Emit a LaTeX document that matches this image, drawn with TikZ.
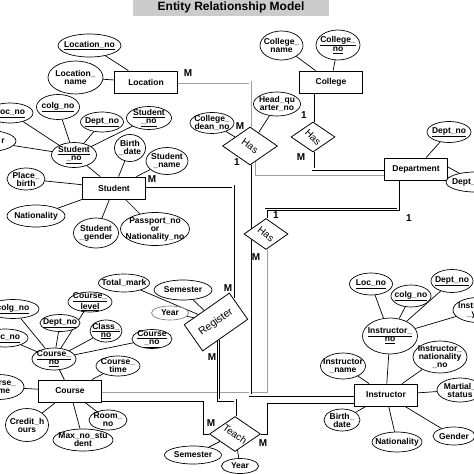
\documentclass[tikz,border=0pt]{standalone}
\usepackage{fontspec}
\setmainfont{Liberation Sans}
\usetikzlibrary{shapes.geometric,calc,backgrounds}
\newcommand{\uln}[1]{\underline{#1}}
\newcommand{\mkattr}[6][]{\node[attr={#4}{#5},#1,label={[lbl]center:{#6}}] (#2) at (#3) {};}
\begin{document}
\begin{tikzpicture}[x=1pt,y=-1pt,
  every node/.style={inner sep=0pt},
  attr/.style 2 args={ellipse, draw, line width=0.7pt, minimum width=#1, minimum height=#2, inner sep=0pt, fill=white},
  lbl/.style={align=center, font=\bfseries\fontsize{8.5}{8}\selectfont, inner sep=0pt},
  ent/.style={rectangle, draw, line width=0.8pt, minimum width=63, minimum height=22, font=\bfseries\fontsize{8.5}{9}\selectfont, fill=white},
  rel/.style 2 args={diamond, draw, line width=0.8pt, minimum width=#1, minimum height=#2, inner sep=0pt, fill=white},
  rlbl/.style={font=\fontsize{10}{10}\selectfont, inner sep=0pt},
  card/.style={font=\bfseries\fontsize{10}{10}\selectfont},
  conn/.style={line width=0.7pt},
  dbl/.style={line width=0.6pt, double=white, double distance=1.8pt},
  gdbl/.style={dbl, draw=gray!75},
]
\useasboundingbox (0,0) rectangle (474,474);
\clip (0,0) rectangle (474,474);

% title
\node[fill=gray!40, minimum width=196, minimum height=18, font=\bfseries\fontsize{12}{12}\selectfont] (title) at (231,7) {Entity Relationship Model};

% entities
\node[ent] (loc) at (146,82) {Location};
\node[ent] (col) at (331,82) {College};
\node[ent] (stu) at (114,188) {Student};
\node[ent] (dep) at (416,169) {Department};
\node[ent] (crs) at (70,391) {Course};
\node[ent] (ins) at (386,395) {Instructor};

% relationships
\node[rel={55}{38}] (hasA) at (250,146) {};
\node[rlbl, rotate=-35] (hasAt) at (hasA.center) {Has};
\node[rel={44}{30}] (hasB) at (313,137) {};
\node[rlbl, rotate=-45] (hasBt) at (hasB.center) {Has};
\node[rel={44}{31}] (hasC) at (266,234) {};
\node[rlbl, rotate=-38] (hasCt) at (hasC.center) {Has};
\node[rel={51}{35}] (teach) at (235,434) {};
\node[rlbl, rotate=-35] (teacht) at (teach.center) {Teach};
\node[draw, line width=0.8pt, fill=white, minimum width=55, minimum height=32, rotate=35] (reg) at (216,322) {};
\node[rlbl, rotate=35, font=\fontsize{10.5}{10.5}\selectfont] (regt) at (reg.center) {Register};

% attributes: Location, College, HasA, Department
\mkattr{lno}{89.5,45.5}{63}{23}{\uln{Location\_no}}
\mkattr{lname}{75.5,77.5}{55}{33}{Location\_\\name}
\mkattr{colname}{281.5,45.5}{43}{29}{College\_\\name}
\mkattr{colno}{338,45}{44}{30}{\uln{College\_}\\\uln{no}}
\mkattr{hq}{277,104}{47}{24}{Head\_qu\\arter\_no}
\mkattr{cdean}{212,123}{44}{21}{College\_\\dean\_no}
\mkattr{ddno}{449,132}{44}{21}{\uln{Dept\_no}}
\mkattr{dname}{475,182}{58}{20}{Dept\_name}
% Student
\mkattr{slocno}{10,113}{46}{20}{\uln{Loc\_no}}
\mkattr{scolg}{58,107}{43}{25}{\uln{colg\_no}}
\mkattr{sr}{-16,141}{64}{22}{\hspace*{38pt}r}
\mkattr{sdept}{102,122}{43}{20}{\uln{Dept\_no}}
\mkattr{ssnob}{149,118}{45}{23}{\uln{Student}\\\uln{\_no}}
\mkattr{ssno}{74,155}{45}{25}{\uln{Student}\\\uln{\_no}}
\mkattr{sbirth}{130,148}{31}{27}{Birth\\\_date}
\mkattr{sname}{167,161}{42}{27}{Student\\\_name}
\mkattr{splace}{26,179}{38}{22}{Place\_\\birth}
\mkattr{snat}{36,216}{58}{22}{Nationality}
\mkattr{sgender}{96,233}{45}{30}{Student\\\_gender}
\mkattr{spass}{155,229}{69}{33}{Passport\_no\\or\\Nationality\_no}
% Course
\mkattr{ccolg}{13,309}{52}{19}{\uln{colg\_no}}
\mkattr{cloc}{5,338}{46}{18}{\uln{Loc\_no}}
\mkattr{cdept}{60,323}{40}{17}{\uln{Dept\_no}}
\mkattr{clevel}{90,302}{44}{20}{\uln{Course\_}\\\uln{level}}
\mkattr{cclass}{106,331}{32}{22}{\uln{Class\_}\\\uln{no}}
\mkattr{ccnob}{152,339}{40}{19}{\uln{Course}\\\uln{\_no}}
\mkattr{ccno}{54,359}{44}{22}{\uln{Course\_}\\\uln{no}}
\mkattr{ctime}{118,366}{44}{20}{Course\_\\time}
\mkattr{cname}{-1,387}{50}{25}{Course\_\\name}
\mkattr{ccredit}{27,425}{43}{33}{Credit\_h\\ours}
\mkattr{cmax}{83,440}{60}{22}{Max\_no\_stu\\dent}
\mkattr{croom}{108,420}{38}{20}{Room\_\\no}
% Register, Teach
\mkattr{rtotal}{124,283}{51}{18}{Total\_mark}
\mkattr{rsem}{183,290}{58}{20}{Semester}
\mkattr[draw=gray]{ryear}{170,313}{37}{14}{Year}
\mkattr{tsem}{193,455}{57}{18}{Semester}
\mkattr{tyear}{240,466}{37}{15}{Year}
% Instructor
\mkattr{iloc}{371,284}{43}{22}{\uln{Loc\_no}}
\mkattr{icolg}{411,296}{40}{22}{\uln{colg\_no}}
\mkattr{idept}{452,281}{42}{23}{\uln{Dept\_no}}
\mkattr{iins}{478,310}{50}{25}{Instructor\\\_year}
\mkattr{iino}{390,336}{55}{36}{\uln{Instructor\_}\\\uln{no}}
\mkattr{inatno}{440,357}{54}{32}{Instructor\_\\nationality\\\_no}
\mkattr{iname}{343,366}{45}{26}{Instructor\\\_name}
\mkattr{imart}{460,390}{46}{24}{Martial\_\\status}
\mkattr{ibirth}{342,420}{36}{22}{Birth\_\\date}
\mkattr{inat}{397,442}{50}{20}{Nationality}
\mkattr{igender}{454,436}{42}{18}{Gender}

% cardinalities
\node[card] (m1) at (188,73) {M};
\node[card] (o1) at (304,115) {1};
\node[card] (m2) at (301,157) {M};
\node[card] (m3) at (240,126) {M};
\node[card] (o2) at (237,162) {1};
\node[card] (m4) at (152,179) {M};
\node[card] (o3) at (276,215) {1};
\node[card] (o4) at (409,218) {1};
\node[card] (m5) at (256,257) {M};
\node[card] (m6) at (228,288) {M};
\node[card] (m7) at (212,357) {M};
\node[card] (m8) at (211,423) {M};
\node[card] (m9) at (263,443) {M};

\begin{pgfonlayer}{background}
\fill[white] (0,0) rectangle (474,474);
% relationship connectors
\draw[gdbl] (loc.east) -| (hasA.north);
\draw[dbl] ([xshift=-18pt]col.south) -- (hasB.north);
\draw[dbl] (hasB.south) |- (dep.west);
\draw[gdbl] ($(hasA.south)!0.25!(hasA.east)$) |- ([yshift=-5pt]dep.west);
\draw[dbl] ([xshift=-18pt]dep.south) -- ++(0,29) -| (hasC.north);
\draw[gdbl] (hasC.south) |- (crs.east);
\draw[dbl] (hasA.south) |- (ins.west);
\draw[dbl] ([yshift=2pt]stu.east) -| ($(reg.north east)!0.4!(reg.east)$);
\draw[dbl] ($(reg.south)!0.3!(reg.south west)$) -- ++(0,60) -| (teach.north);
\draw[conn] ([yshift=1pt]crs.south east) -- ++(101,0) |- (teach.west);
\draw[conn] (teach.east) -- ++(6,0) |- ([yshift=-8pt]ins.west);
% attribute connectors
\draw[conn] (lno) -- (loc);
\draw[conn] (lname) -- (loc);
\draw[conn] (colname) -- (col);
\draw[conn] (colno) -- (col);
\draw[conn] (hq) -- (hasA);
\draw[conn] (cdean) -- (hasA);
\draw[conn] (ddno) -- (dep);
\draw[conn] ([yshift=2pt]dep.east) -- (dname);
\draw[conn] ([yshift=-8pt]dep.east) -- (dname);
\foreach \a in {slocno,scolg,sr,sdept,ssnob} \draw[conn] (\a) -- (ssno);
\foreach \a in {ssno,sbirth,sname,splace,snat,sgender,spass} \draw[conn] (\a) -- (stu);
\foreach \a in {ccolg,cloc,cdept,clevel,cclass,ccnob} \draw[conn] (\a) -- (ccno);
\foreach \a in {ccno,ctime,cname,ccredit,cmax,croom} \draw[conn] (\a) -- (crs);
\foreach \a in {rtotal,rsem,ryear} \draw[conn] (\a) -- (reg);
\foreach \a in {tsem,tyear} \draw[conn] (\a) -- (teach);
\foreach \a in {iloc,icolg,idept,iins} \draw[conn] (\a) -- (iino);
\foreach \a in {iino,inatno,iname,imart,ibirth,inat,igender} \draw[conn] (\a) -- (ins);
\end{pgfonlayer}
\end{tikzpicture}
\end{document}
